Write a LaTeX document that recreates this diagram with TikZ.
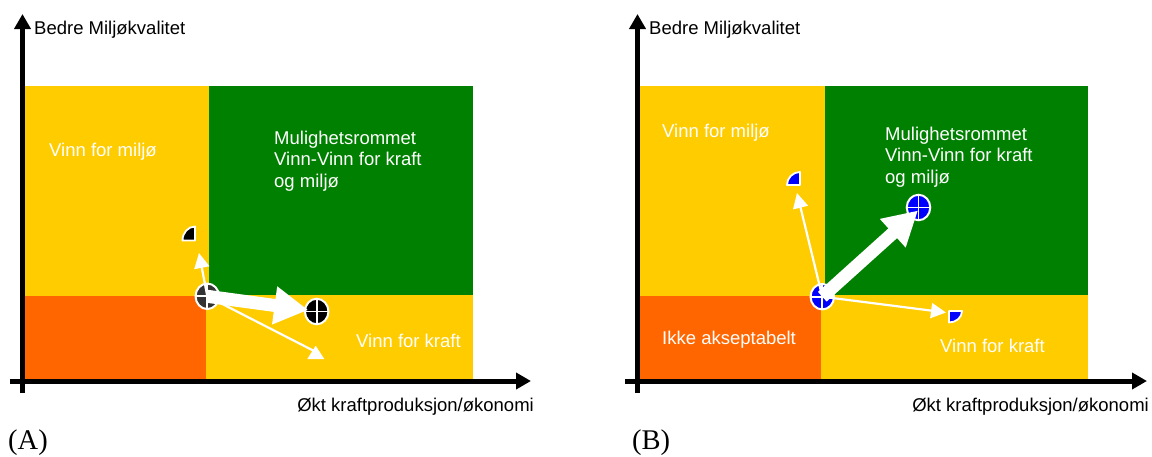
\documentclass[tikz,border=0pt]{standalone}
\usepackage{fontspec}
\setmainfont{Liberation Sans}
\newfontfamily\serifcap{Liberation Serif}
\usetikzlibrary{arrows.meta,shapes.geometric}
\definecolor{yel}{HTML}{FFCC00}
\definecolor{grn}{HTML}{008000}
\definecolor{org}{HTML}{FF6600}
\definecolor{markblue}{HTML}{0000FF}
\tikzset{
  x=1pt,y=-1pt,
  axisline/.style={draw=black,line width=5pt,-{Triangle[length=15pt,width=16pt]}},
  lab/.style={font=\fontsize{18.5}{22}\selectfont,text=black,inner sep=0pt,align=left},
  wlab/.style={font=\fontsize{18.5}{21.5}\selectfont,text=white,inner sep=0pt,align=left},
  figcap/.style={font=\serifcap\fontsize{28.5}{32}\selectfont,text=black,inner sep=0pt},
  markdot/.style={shape=ellipse,draw=white,line width=2pt,inner sep=0pt,minimum width=23.5pt,minimum height=25.5pt},
  thinarrow/.style={draw=white,line width=2.2pt,-{Triangle[length=15pt,width=15pt]}},
  thinline/.style={draw=white,line width=2.2pt},
  fatarrow/.style={draw=white,line width=13pt,-{Triangle[length=34pt,width=36pt]}},
  crossline/.style={draw=white,line width=1.8pt},
  quarterfill/.style={draw=white,line width=1.8pt,line join=round},
}
\newcommand{\crossin}[1]{\draw[crossline] (#1.north)--(#1.south) (#1.west)--(#1.east);}
\begin{document}
\begin{tikzpicture}
\useasboundingbox (0,0) rectangle (1152,456);
% ---- panel A regions
\fill[yel] (25,86) rectangle (209,296);
\fill[grn] (209,86) rectangle (473,295);
\fill[yel] (206,295) rectangle (473,380);
\fill[org] (25,296) rectangle (206,380);
% ---- panel A axes
\coordinate (ao) at (22.5,393);
\coordinate (ay) at (22.5,14);
\coordinate (ax0) at (10,381);
\coordinate (ax) at (531,381);
\draw[axisline] (ao) -- (ay);
\draw[axisline] (ax0) -- (ax);
% ---- panel A labels
\node[lab,anchor=west] (a1) at (34,30) {Bedre Miljøkvalitet};
\node[lab,anchor=east] (a2) at (534,407) {Økt kraftproduksjon/økonomi};
\node[figcap,anchor=base west] (a3) at (8,449.5) {(A)};
\node[wlab,anchor=west] (a4) at (49,152) {Vinn for miljø};
\node[wlab,anchor=north west] (a5) at (274,130.5) {Mulighetsrommet\\Vinn-Vinn for kraft\\og miljø};
\node[wlab,anchor=west] (a6) at (356,340.5) {Vinn for kraft};
% ---- panel A markers
\node[markdot,fill=black!80] (am) at (207.3,296.3) {};
\crossin{am}
\node[markdot,fill=black] (ar) at (316.7,311.5) {};
\crossin{ar}
\coordinate (aq) at (195,240.5);
\draw[quarterfill,fill=black] (aq) -- ++(-12.5,0) arc[start angle=180,end angle=270,x radius=12.5,y radius=14] -- cycle;
\draw[white,line width=1pt] (192.5,227.5) -- (196,227.5);
\coordinate (at1) at (199,253);
\coordinate (at2) at (308.3,310);
\coordinate (at3) at (316,352);
\coordinate (at3a) at (315.7,345.7);
\coordinate (at3b) at (307.3,359);
\coordinate (at3c) at (324.3,359);
\draw[thinarrow] (am.center) -- (at1);
\draw[thinline] (am.center) -- (at3);
\fill[white] (at3a) -- (at3b) -- (at3c) -- cycle;
\draw[fatarrow] (am.center) -- (at2);
% ---- panel B regions
\fill[yel] (640,86) rectangle (825,295.5);
\fill[grn] (825,86) rectangle (1088,295);
\fill[yel] (821,295) rectangle (1088,380);
\fill[org] (640,295.5) rectangle (821,380);
% ---- panel B axes
\coordinate (bo) at (637.5,393);
\coordinate (by) at (637.5,14);
\coordinate (bx0) at (625,381);
\coordinate (bx) at (1147,381);
\draw[axisline] (bo) -- (by);
\draw[axisline] (bx0) -- (bx);
% ---- panel B labels
\node[lab,anchor=west] (b1) at (649,30) {Bedre Miljøkvalitet};
\node[lab,anchor=east] (b2) at (1149,407) {Økt kraftproduksjon/økonomi};
\node[figcap,anchor=base west] (b3) at (632,449.5) {(B)};
\node[wlab,anchor=west] (b4) at (662,133) {Vinn for miljø};
\node[wlab,anchor=north west] (b5) at (885,126.5) {Mulighetsrommet\\Vinn-Vinn for kraft\\og miljø};
\node[wlab,anchor=west] (b6) at (662,340) {Ikke akseptabelt};
\node[wlab,anchor=west] (b7) at (940,345.5) {Vinn for kraft};
% ---- panel B markers
\node[markdot,fill=markblue] (bm) at (822.3,296.7) {};
\crossin{bm}
\node[markdot,fill=markblue] (br) at (918.5,207.5) {};
\crossin{br}
\coordinate (bq1) at (800,185);
\draw[quarterfill,fill=markblue] (bq1) -- ++(-13,0) arc[start angle=180,end angle=270,x radius=13,y radius=13] -- cycle;
\coordinate (bq2) at (949,311);
\draw[quarterfill,fill=markblue] (bq2) -- ++(13,0) arc[start angle=0,end angle=90,x radius=13,y radius=11.5] -- cycle;
\coordinate (bt1) at (797,193);
\coordinate (bt2) at (918,210.5);
\coordinate (bt3) at (946,312.5);
\draw[thinarrow] (bm.center) -- (bt1);
\draw[thinarrow] (bm.center) -- (bt3);
\draw[fatarrow] (bm.center) -- (bt2);
\end{tikzpicture}
\end{document}
